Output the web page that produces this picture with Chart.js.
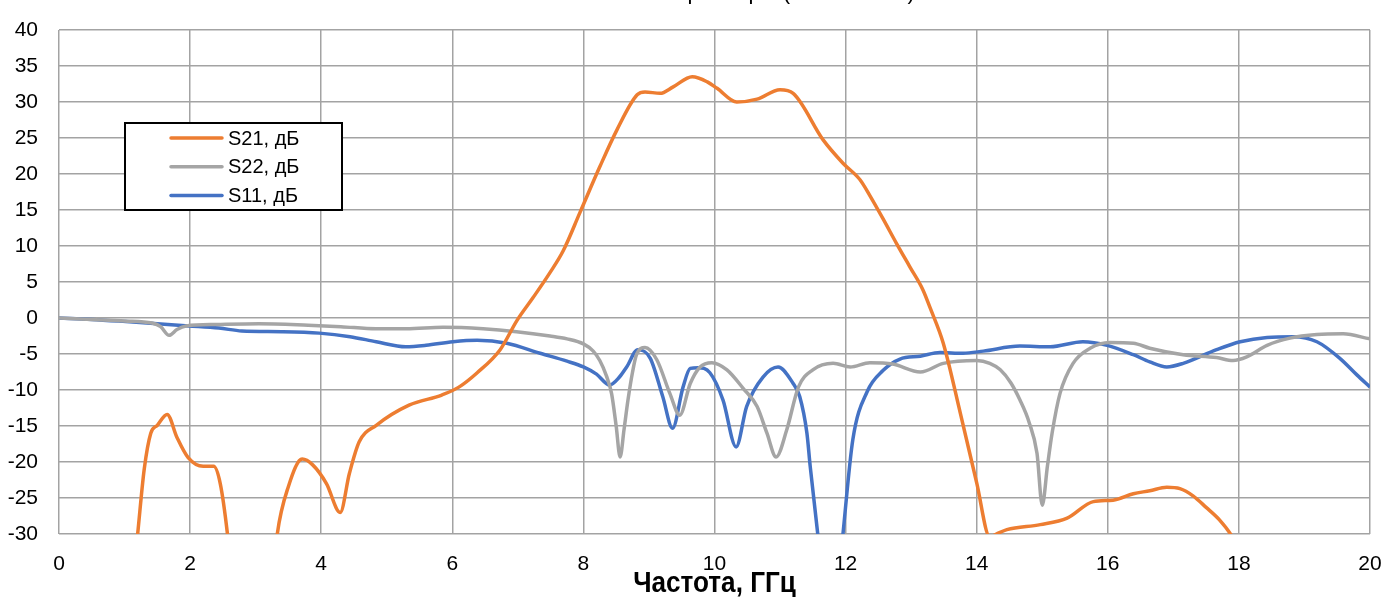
<!DOCTYPE html>
<html>
<head>
<meta charset="utf-8">
<script src="https://cdn.jsdelivr.net/npm/chart.js@4"></script>
<style>
  html, body { margin: 0; padding: 0; background: #fff; }
  #wrap { width: 1398px; height: 597px; position: relative; }
</style>
</head>
<body>
<div id="wrap"><canvas id="c" width="1398" height="597"></canvas></div>
<script>
// Frequency (GHz) and level (dB) for each S-parameter trace
const s21Freq = [1.0, 1.2, 1.3, 1.4, 1.5, 1.65, 1.8, 1.97, 2.2, 2.36, 2.46, 2.57, 2.7, 3.2, 3.33, 3.5, 3.71, 3.87, 4.08, 4.29, 4.43, 4.58, 4.84, 5.34, 5.84, 6.1, 6.38, 6.73, 6.99, 7.23, 7.49, 7.69, 7.95, 8.25, 8.51, 8.82, 8.94, 9.17, 9.37, 9.66, 9.89, 10.04, 10.34, 10.65, 11.0, 11.2, 11.66, 11.96, 12.22, 12.37, 12.57, 12.78, 12.98, 13.18, 13.29, 13.49, 13.75, 14.0, 14.2, 14.3, 14.46, 14.97, 15.38, 15.78, 16.08, 16.39, 16.64, 16.9, 17.1, 17.3, 17.5, 17.7, 17.9, 18.2];
const s21Db   = [-48, -30, -21, -16, -14.9, -13.4, -16.6, -19.4, -20.6, -20.6, -23, -30, -42, -42, -30, -23.4, -19.6, -20.4, -23, -27, -21.6, -17.2, -14.9, -12.1, -10.7, -9.6, -7.6, -4.4, -0.3, 2.8, 6.3, 9.3, 14.7, 21, 26.1, 31, 31.4, 31.2, 32.1, 33.5, 32.8, 31.9, 30.0, 30.4, 31.7, 31.2, 24.7, 21.5, 19.2, 17.0, 13.8, 10.3, 7.1, 3.9, 1.4, -3.5, -13.2, -22.9, -30.4, -30.0, -29.4, -28.7, -27.8, -25.5, -25.3, -24.4, -24.0, -23.5, -23.7, -24.7, -26.3, -28.0, -30.4, -36];

const s22Freq = [0, 0.5, 1.0, 1.42, 1.55, 1.68, 1.8, 1.94, 2.4, 3.05, 3.8, 4.3, 4.84, 5.3, 5.86, 6.47, 6.98, 7.49, 7.75, 8.0, 8.15, 8.25, 8.35, 8.43, 8.5, 8.56, 8.62, 8.68, 8.75, 8.81, 8.94, 9.12, 9.32, 9.47, 9.63, 9.78, 9.96, 10.19, 10.44, 10.65, 10.8, 10.94, 11.1, 11.28, 11.5, 11.81, 12.07, 12.37, 12.72, 13.14, 13.49, 14.0, 14.2, 14.36, 14.52, 14.66, 14.8, 14.92, 15.0, 15.08, 15.15, 15.27, 15.47, 15.73, 16.03, 16.39, 16.64, 17.15, 17.66, 17.91, 18.12, 18.43, 18.78, 19.19, 19.59, 20];
const s22Db   = [0, -0.2, -0.4, -0.7, -1.2, -2.4, -1.6, -1.1, -0.9, -0.8, -1.0, -1.2, -1.5, -1.5, -1.3, -1.5, -1.9, -2.5, -2.9, -3.6, -4.6, -5.9, -8.0, -10.5, -15, -19.3, -15.5, -11.4, -7.5, -5.1, -4.1, -5.8, -10.5, -13.5, -9.1, -6.8, -6.2, -7.2, -9.8, -12.3, -16, -19.3, -15.6, -9.6, -7.2, -6.3, -6.8, -6.2, -6.4, -7.5, -6.3, -5.9, -6.3, -7.2, -9.0, -11.4, -14.5, -18.8, -26, -20.5, -16, -10.5, -6.3, -4.2, -3.4, -3.5, -4.2, -5.1, -5.5, -5.9, -5.4, -3.8, -2.8, -2.3, -2.2, -2.9];

const s11Freq = [0, 0.5, 1.02, 1.5, 1.98, 2.44, 2.79, 3.4, 3.97, 4.44, 4.84, 5.29, 5.6, 6.01, 6.38, 6.83, 7.34, 7.75, 8.0, 8.2, 8.4, 8.55, 8.66, 8.83, 9.02, 9.21, 9.36, 9.52, 9.63, 9.75, 9.93, 10.13, 10.33, 10.49, 10.74, 10.97, 11.2, 11.3, 11.41, 11.46, 11.58, 11.77, 11.96, 12.11, 12.33, 12.57, 12.83, 13.14, 13.44, 13.79, 14.1, 14.66, 15.12, 15.62, 15.99, 16.39, 16.64, 16.9, 17.15, 17.66, 18.02, 18.43, 18.83, 19.19, 19.54, 19.8, 20];
const s11Db   = [0, -0.2, -0.5, -0.8, -1.1, -1.4, -1.8, -1.9, -2.1, -2.6, -3.3, -4.0, -3.8, -3.3, -3.1, -3.5, -4.9, -6.0, -6.8, -7.8, -9.3, -8.2, -6.8, -4.4, -5.6, -10.9, -15.3, -9.6, -7.0, -6.9, -7.6, -11.4, -17.9, -12.3, -8.2, -6.8, -9.1, -10.9, -16, -20.6, -30.4, -48, -30, -16.9, -10.2, -7.3, -5.7, -5.3, -4.8, -4.9, -4.6, -3.9, -4.0, -3.3, -3.8, -5.1, -6.1, -6.8, -6.3, -4.4, -3.3, -2.7, -2.6, -3.3, -5.6, -7.9, -9.6];

const seriesNames = ['S21, дБ', 'S22, дБ', 'S11, дБ'];
const chartTitle = 'S-параметры (макет МШУ)';
const xAxisTitle = 'Частота, ГГц';

const FONT = "'Liberation Sans Narrow', 'Arial Narrow', 'Liberation Sans', Arial, sans-serif";

const pts = (xs, ys) => xs.map((x, i) => ({ x, y: ys[i] }));

// Chart title (runs off the top edge) and x-axis title in a condensed bold face
const textPlugin = {
  id: 'texts',
  afterDraw(chart) {
    const ctx = chart.ctx;
    const area = chart.chartArea;
    ctx.save();
    ctx.fillStyle = '#000';
    ctx.textAlign = 'center';
    ctx.textBaseline = 'alphabetic';
    ctx.font = "22px 'Liberation Sans', Arial, sans-serif";
    ctx.fillText(chartTitle, 778, -1);
    const cx = (area.left + area.right) / 2;
    ctx.translate(cx, 592);
    ctx.scale(0.87, 1);
    ctx.font = "bold 30px " + FONT;
    ctx.fillText(xAxisTitle, 0, 0);
    ctx.restore();
  }
};

// Boxed legend inside the plot area
const boxLegend = {
  id: 'boxLegend',
  afterDraw(chart) {
    const ctx = chart.ctx;
    const x0 = 125, y0 = 123, w = 217, h = 87;
    ctx.save();
    ctx.fillStyle = '#fff';
    ctx.fillRect(x0, y0, w, h);
    ctx.lineWidth = 2;
    ctx.strokeStyle = '#000';
    ctx.strokeRect(x0, y0, w, h);
    ctx.font = "20px " + FONT;
    ctx.textBaseline = 'middle';
    ctx.textAlign = 'left';
    chart.data.datasets.forEach((ds, i) => {
      const y = 138 + i * 28.7;
      ctx.strokeStyle = ds.borderColor;
      ctx.lineWidth = 3.5;
      ctx.lineCap = 'round';
      ctx.beginPath();
      ctx.moveTo(171, y);
      ctx.lineTo(222, y);
      ctx.stroke();
      ctx.fillStyle = '#000';
      ctx.fillText(ds.label, 228, y + 1);
    });
    ctx.restore();
  }
};

const lineDs = (label, data, color) => ({
  label, data,
  borderColor: color,
  backgroundColor: color,
  borderWidth: 3.5,
  pointRadius: 0,
  cubicInterpolationMode: 'monotone',
  fill: false
});

new Chart(document.getElementById('c'), {
  type: 'line',
  data: {
    datasets: [
      lineDs(seriesNames[0], pts(s21Freq, s21Db), '#ED7D31'),
      lineDs(seriesNames[1], pts(s22Freq, s22Db), '#A5A5A5'),
      lineDs(seriesNames[2], pts(s11Freq, s11Db), '#4472C4')
    ]
  },
  options: {
    responsive: false,
    animation: false,
    layout: { padding: { top: 30, right: 28, left: 0, bottom: 0 } },
    plugins: { legend: { display: false }, tooltip: { enabled: false }, title: { display: false } },
    scales: {
      x: {
        type: 'linear', min: 0, max: 20,
        ticks: { stepSize: 2, color: '#000', font: { family: FONT, size: 21 }, padding: 18, maxRotation: 0 },
        grid: { color: '#a3a3a3', lineWidth: 1.5, drawTicks: false },
        border: { display: false },
        afterFit(s) { s.height = 63; s.paddingLeft = 0; s.paddingRight = 0; }
      },
      y: {
        min: -30, max: 40,
        ticks: { stepSize: 5, color: '#000', font: { family: FONT, size: 21 }, padding: 21 },
        grid: { color: '#a3a3a3', lineWidth: 1.5, drawTicks: false },
        border: { display: false },
        afterFit(s) { s.width = 59; s.paddingTop = 0; s.paddingBottom = 0; }
      }
    }
  },
  plugins: [textPlugin, boxLegend]
});
</script>
</body>
</html>
